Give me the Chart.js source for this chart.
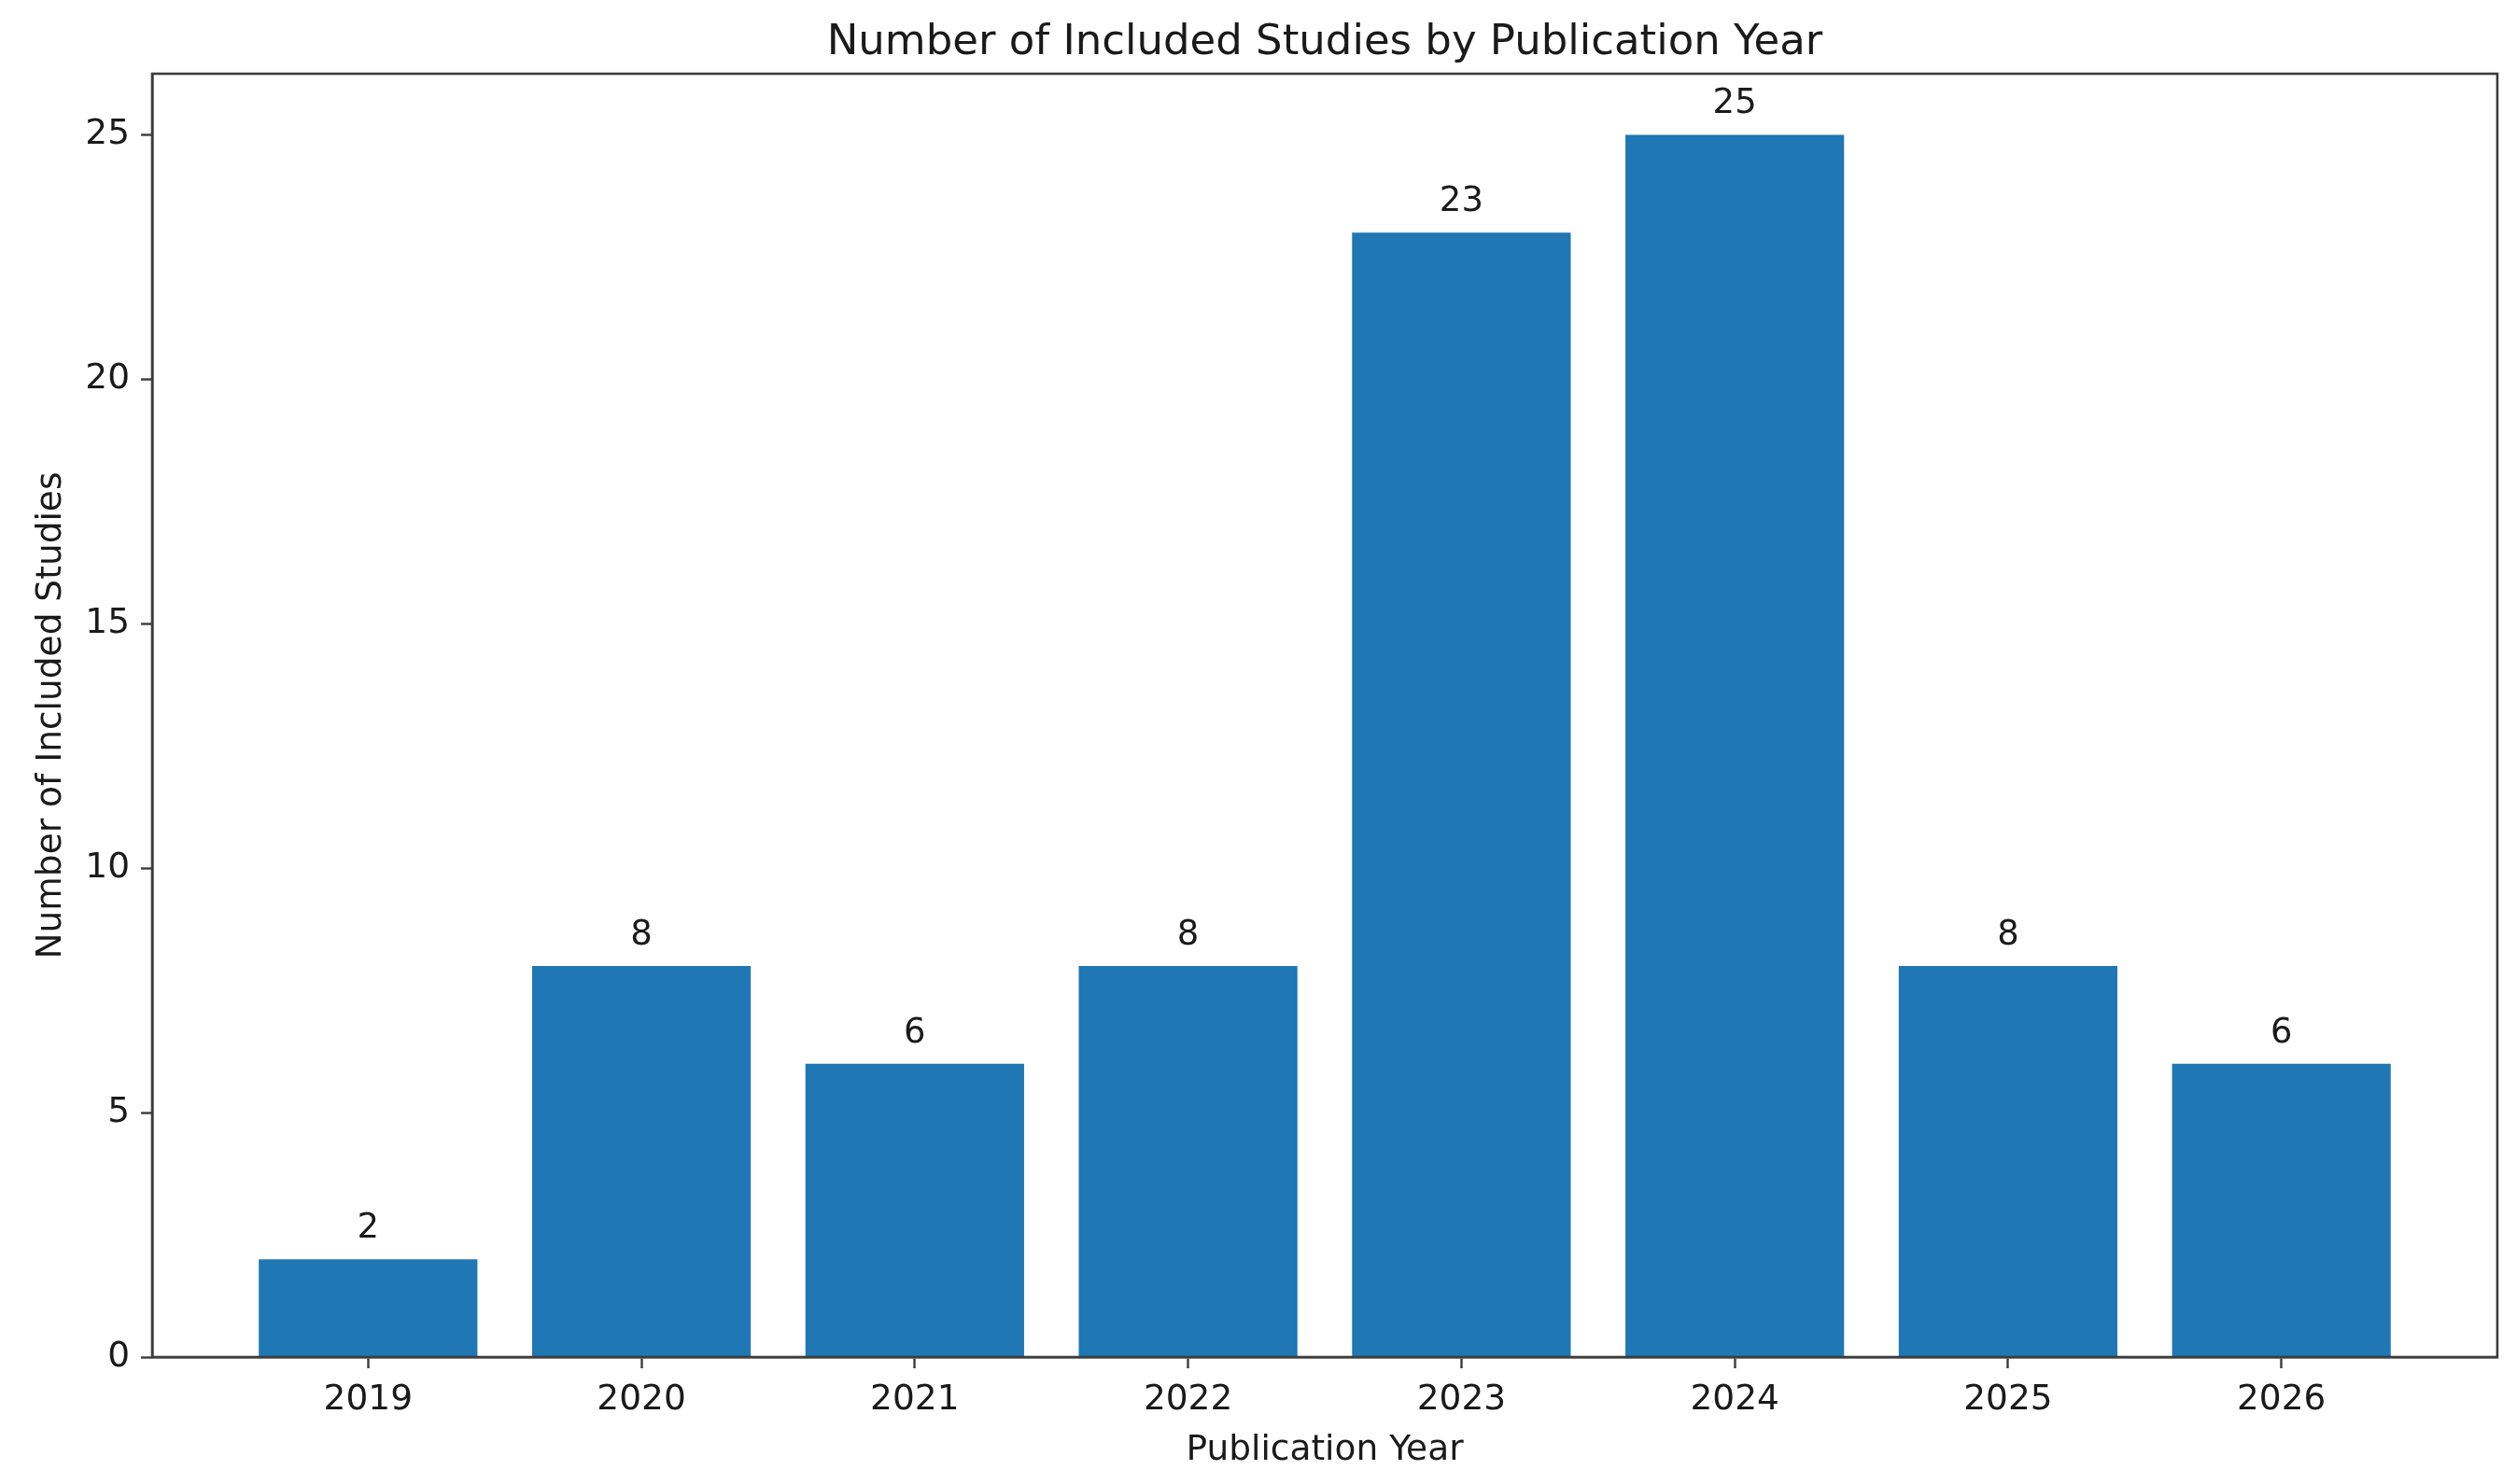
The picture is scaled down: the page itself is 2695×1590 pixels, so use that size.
<!DOCTYPE html>
<html>
<head>
<meta charset="utf-8">
<script src="https://cdn.jsdelivr.net/npm/chart.js@4"></script>
<style>
  html, body { margin: 0; padding: 0; background: #fff; }
  canvas { display: block; }
</style>
</head>
<body>
<canvas id="chart" width="2695" height="1590"></canvas>
<script>
// data
var years = [2019, 2020, 2021, 2022, 2023, 2024, 2025, 2026];
var studies = [2, 8, 6, 8, 23, 25, 8, 6];
var yTicks = [0, 5, 10, 15, 20, 25];

var FONT = "'DejaVu Sans', sans-serif";
var INK = '#1a1a1a';
var LINE = '#3c3c3c';

// matplotlib style box round the plot area
var frame = {
    id: 'frame',
    afterDraw: function (chart) {
        var a = chart.chartArea, c = chart.ctx;
        c.save();
        c.strokeStyle = LINE;
        c.lineWidth = 2.6;
        c.strokeRect(a.left, a.top, a.right - a.left, a.bottom - a.top);
        c.restore();
    }
};

// counts above the bars
var barLabels = {
    id: 'barLabels',
    afterDatasetsDraw: function (chart) {
        var c = chart.ctx;
        var meta = chart.getDatasetMeta(0);
        c.save();
        c.font = '37px ' + FONT;
        c.fillStyle = INK;
        c.textAlign = 'center';
        c.textBaseline = 'alphabetic';
        meta.data.forEach(function (bar, i) {
            c.fillText(String(studies[i]), bar.x, bar.y - 23);
        });
        c.restore();
    }
};

var points = [];
for (var i in years) {
    points.push({x: years[i], y: studies[i]});
}

new Chart(document.getElementById('chart'), {
    type: 'bar',
    data: {
        datasets: [{
            data: points,
            backgroundColor: '#1f77b4',
            borderWidth: 0,
            barPercentage: 0.8,
            categoryPercentage: 1.0
        }]
    },
    options: {
        responsive: false,
        animation: false,
        devicePixelRatio: 1,
        layout: { padding: { left: 0, right: 20, top: 0, bottom: 0 } },
        plugins: {
            legend: { display: false },
            tooltip: { enabled: false },
            title: {
                display: true,
                fullSize: false,
                text: 'Number of Included Studies by Publication Year',
                color: INK,
                font: { family: FONT, size: 45, weight: 'normal', lineHeight: 1.2 },
                padding: { top: 19, bottom: 6 }
            }
        },
        scales: {
            x: {
                type: 'linear',
                offset: false,
                min: years[0] - 0.79,
                max: years[years.length - 1] + 0.79,
                afterBuildTicks: function (axis) {
                    axis.ticks = years.map(function (v) { return {value: v}; });
                },
                afterFit: function (axis) { axis.height = 136; },
                ticks: {
                    color: INK,
                    font: { family: FONT, size: 37.5 },
                    padding: 12,
                    maxRotation: 0,
                    autoSkip: false,
                    callback: function (v) { return String(v); }
                },
                grid: {
                    offset: false,
                    drawOnChartArea: false,
                    drawTicks: true,
                    tickLength: 12,
                    tickColor: LINE,
                    tickWidth: 2.4
                },
                border: { display: true, color: LINE, width: 2.6 },
                title: {
                    display: true,
                    text: 'Publication Year',
                    color: INK,
                    font: { family: FONT, size: 37.5, lineHeight: 1.2 },
                    padding: { top: 13, bottom: 13 }
                }
            },
            y: {
                min: 0,
                max: 26.25,
                afterBuildTicks: function (axis) {
                    axis.ticks = yTicks.map(function (v) { return {value: v}; });
                },
                afterFit: function (axis) { axis.width = 163; },
                ticks: {
                    color: INK,
                    font: { family: FONT, size: 37.5 },
                    padding: 12
                },
                grid: {
                    drawOnChartArea: false,
                    drawTicks: true,
                    tickLength: 12,
                    tickColor: LINE,
                    tickWidth: 2.4
                },
                border: { display: true, color: LINE, width: 2.6 },
                title: {
                    display: true,
                    text: 'Number of Included Studies',
                    color: INK,
                    font: { family: FONT, size: 37.5, lineHeight: 1.2 },
                    padding: { top: 33, bottom: 33 }
                }
            }
        }
    },
    plugins: [frame, barLabels]
});
</script>
</body>
</html>
